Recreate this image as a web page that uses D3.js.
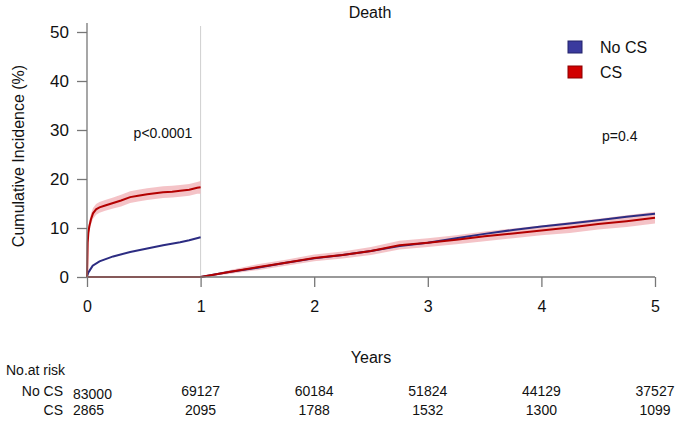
<!DOCTYPE html>
<html>
<head>
<meta charset="utf-8">
<script src="https://cdn.jsdelivr.net/npm/d3@7"></script>
<style>
  body { margin: 0; background: #fff; }
  text { font-family: "Liberation Sans", Arial, sans-serif; fill: #111; }
</style>
</head>
<body>
<div class="svg"></div>
<script>
// groups and risk table
const groups = ["No CS", "CS"];
const yearTicks = [0, 1, 2, 3, 4, 5];
const yTicks = [0, 10, 20, 30, 40, 50];
const riskNoCS = [83000, 69127, 60184, 51824, 44129, 37527];
const riskCS = [2865, 2095, 1788, 1532, 1300, 1099];

// landmark 0-1 year
const timeA_noCS = [0, 0.003, 0.01, 0.02, 0.05, 0.11, 0.23, 0.38, 0.53, 0.67, 0.82, 0.9, 1.0];
const noCS_A = [0, 0.3, 0.8, 1.2, 2.3, 3.2, 4.2, 5.1, 5.8, 6.5, 7.1, 7.5, 8.1];

const timeA_CS = [0, 0.003, 0.006, 0.012, 0.02, 0.035, 0.053, 0.08, 0.11, 0.16, 0.23, 0.3, 0.38, 0.45, 0.53, 0.6, 0.67, 0.75, 0.82, 0.9, 0.97, 1.0];
const CS_A = [0, 3, 7, 9, 10.3, 11.8, 13.0, 13.8, 14.2, 14.6, 15.1, 15.6, 16.3, 16.6, 16.9, 17.1, 17.3, 17.4, 17.6, 17.8, 18.2, 18.3];
const CS_A_low = [0, 2, 5.5, 7.8, 9.2, 10.7, 11.9, 12.7, 13.1, 13.5, 14.0, 14.4, 15.1, 15.4, 15.7, 15.9, 16.1, 16.2, 16.4, 16.6, 17.0, 17.0];
const CS_A_high = [0, 4, 8.5, 10.2, 11.4, 12.9, 14.1, 14.9, 15.3, 15.7, 16.2, 16.8, 17.5, 17.8, 18.1, 18.3, 18.5, 18.6, 18.8, 19.0, 19.4, 19.6];

// landmark 1-5 years
const timeB = [0, 1, 1.25, 1.5, 1.75, 2, 2.25, 2.5, 2.75, 3, 3.25, 3.5, 3.75, 4, 4.25, 4.5, 4.75, 5];
const noCS_B = [0, 0, 1.0, 1.9, 2.9, 3.8, 4.5, 5.3, 6.3, 7.0, 7.9, 8.8, 9.6, 10.3, 10.9, 11.6, 12.3, 12.9];
const CS_B = [0, 0, 1.0, 2.0, 2.9, 3.9, 4.5, 5.3, 6.5, 7.0, 7.6, 8.3, 8.9, 9.5, 10.1, 10.8, 11.4, 12.1];
const CS_B_low = [0, 0, 0.6, 1.4, 2.3, 3.2, 3.8, 4.5, 5.6, 6.1, 6.7, 7.3, 7.9, 8.5, 9.0, 9.7, 10.2, 10.9];
const CS_B_high = [0, 0, 1.4, 2.6, 3.5, 4.6, 5.2, 6.1, 7.4, 7.9, 8.5, 9.3, 9.9, 10.5, 11.2, 11.9, 12.6, 13.3];

const width = 680;
const height = 421;
const blue = "#2c2c82";
const red = "#b30000";
const pink = "#f2b9bd";

let svg = d3.select('.svg').append("svg").attr("width", width).attr("height", height);

let x = d3.scaleLinear().domain([0, 5]).range([87, 655]);
let y = d3.scaleLinear().domain([0, 50]).range([277, 32]);

// landmark divider
svg.append('line')
    .attr('x1', x(1)).attr('x2', x(1))
    .attr('y1', 26).attr('y2', y(0))
    .attr('stroke', '#cfcfcf').attr('stroke-width', 1);

let line = d3.line().x(d => x(d[0])).y(d => y(d[1]));
let area = d3.area().x(d => x(d[0])).y0(d => y(d[1])).y1(d => y(d[2]));

function zip(t, v) { return t.map((d, i) => [d, v[i]]); }
function zip3(t, lo, hi) { return t.map((d, i) => [d, lo[i], hi[i]]); }

// confidence bands
svg.append('path').datum(zip3(timeA_CS, CS_A_low, CS_A_high))
    .attr('d', area).attr('fill', pink).attr('opacity', 0.85);
svg.append('path').datum(zip3(timeB, CS_B_low, CS_B_high))
    .attr('d', area).attr('fill', pink).attr('opacity', 0.85);

// curves
[[timeA_noCS, noCS_A, blue], [timeB, noCS_B, blue], [timeA_CS, CS_A, red], [timeB, CS_B, red]]
    .forEach(function (s) {
        svg.append('path').datum(zip(s[0], s[1]))
            .attr('d', line)
            .attr('fill', 'none')
            .attr('stroke', s[2])
            .attr('stroke-width', 2);
    });

// axes
let axisY = d3.axisLeft(y).tickValues(yTicks).tickSize(10).tickSizeOuter(0).tickPadding(8);
let gy = svg.append('g').attr('transform', 'translate(' + x(0) + ',0)').call(axisY);
gy.select('.domain').remove();
gy.append('line').attr('x1', 0).attr('x2', 0).attr('y1', 23).attr('y2', y(0));

let axisX = d3.axisBottom(x).tickValues(yearTicks).tickFormat(d3.format('d')).tickSize(10).tickSizeOuter(0).tickPadding(14);
let gx = svg.append('g').attr('transform', 'translate(0,' + y(0) + ')').call(axisX);
gx.select('.domain').remove();
gx.append('line').attr('x1', x(0)).attr('x2', x(5)).attr('y1', 0).attr('y2', 0);

svg.selectAll('.tick line, g > line').attr('stroke', '#777').attr('stroke-width', 1.3);
gy.selectAll('.tick text').attr('font-size', 17).attr('fill', '#111');
gx.selectAll('.tick text').attr('font-size', 16).attr('fill', '#111');

// titles
svg.append('text').attr('x', 370).attr('y', 18).attr('text-anchor', 'middle')
    .attr('font-size', 16).text('Death');
svg.append('text').attr('transform', 'translate(24,156) rotate(-90)')
    .attr('text-anchor', 'middle').attr('font-size', 16).text('Cumulative Incidence (%)');
svg.append('text').attr('x', 371).attr('y', 363).attr('text-anchor', 'middle')
    .attr('font-size', 16).text('Years');

svg.append('text').attr('x', 163).attr('y', 138).attr('text-anchor', 'middle')
    .attr('font-size', 14).text('p<0.0001');
svg.append('text').attr('x', 602).attr('y', 141)
    .attr('font-size', 14).text('p=0.4');

// legend
let legend = svg.selectAll('.leg').data(groups).enter().append('g')
    .attr('transform', (d, i) => 'translate(568,' + (41 + i * 25) + ')');
legend.append('rect')
    .attr('width', 14).attr('height', 12)
    .attr('fill', (d, i) => i === 0 ? '#3a3a9e' : '#d10000')
    .attr('stroke', (d, i) => i === 0 ? '#22226a' : '#8a0000')
    .attr('stroke-width', 1);
legend.append('text').attr('x', 32).attr('y', 12)
    .attr('font-size', 16).text(d => d);

// risk table
svg.append('text').attr('x', 6).attr('y', 375).attr('font-size', 14).text('No.at risk');
let rows = [[riskNoCS, 396], [riskCS, 415]];
rows.forEach(function (r, k) {
    svg.append('text').attr('x', 63).attr('y', r[1]).attr('text-anchor', 'end')
        .attr('font-size', 14).text(groups[k]);
    svg.selectAll('.risk' + k).data(r[0]).enter().append('text')
        .attr('x', (d, i) => i === 0 ? x(0) - 14 : x(yearTicks[i]))
        .attr('y', (d, i) => i === 0 && k === 0 ? r[1] + 3 : r[1])
        .attr('text-anchor', (d, i) => i === 0 ? 'start' : 'middle')
        .attr('font-size', 14)
        .text(d => d);
});
</script>
</body>
</html>
